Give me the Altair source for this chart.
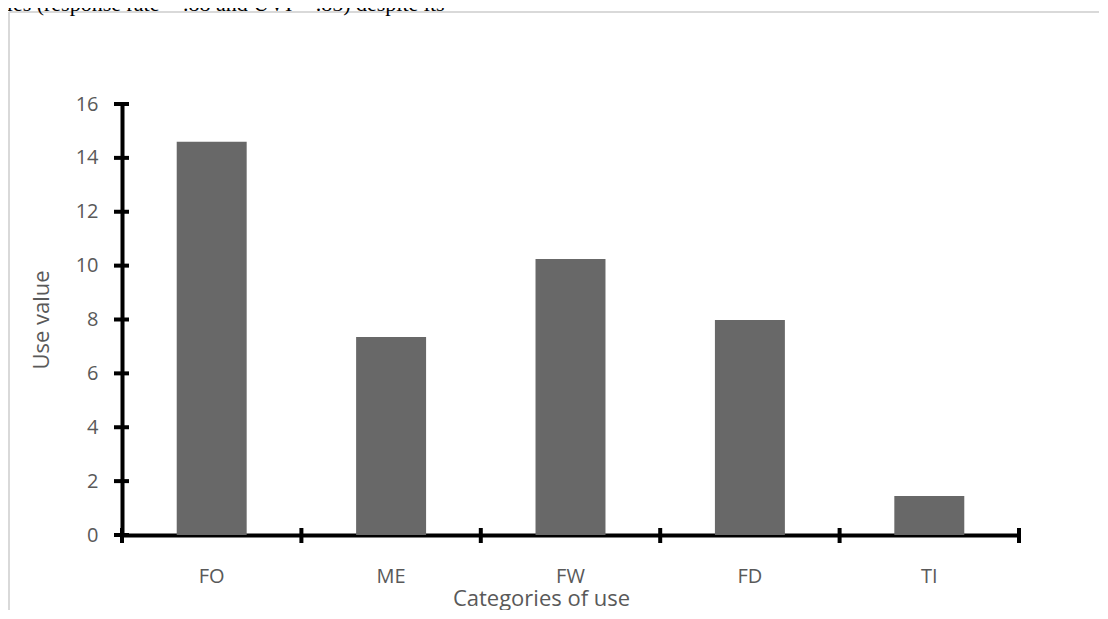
import altair as alt
import pandas as pd

# ---- data ----
categories = ["FO", "ME", "FW", "FD", "TI"]
use_values = [14.6, 7.35, 10.25, 7.98, 1.45]
y_ticks = [0, 2, 4, 6, 8, 10, 12, 14, 16]
end_category = [categories[-1]]
header_text = ["cies (response rate = .88 and UVI = .85) despite its"]

W, H = 897, 431
TEXT = "#595959"
FONT = "Open Sans"

bars_df = pd.DataFrame({"cat": categories, "value": use_values})
yt_df = pd.DataFrame({"value": y_ticks})
xt_df = pd.DataFrame({"cat": categories})
xe_df = pd.DataFrame({"cat": end_category})
one = pd.DataFrame({"k": [0]})
hdr_df = pd.DataFrame({"t": header_text})

xscale = alt.Scale(domain=categories, paddingInner=0, paddingOuter=0)
yscale = alt.Scale(domain=[0, 16], nice=False, zero=True)

x_axis = alt.Axis(title="Categories of use", ticks=False, tickSize=0,
                  labelAngle=0, labelFont=FONT, labelFontSize=20,
                  labelColor=TEXT, labelBaseline="alphabetic",
                  labelPadding=47, domainColor="black", domainWidth=4,
                  titleFont=FONT, titleFontSize=22, titleFontWeight="normal",
                  titleColor=TEXT, titleBaseline="alphabetic",
                  titleX=419, titleY=70, titleAnchor="middle")
y_axis = alt.Axis(values=y_ticks, title="Use value", ticks=False, tickSize=0,
                  grid=False, labelFont=FONT, labelFontSize=20,
                  labelColor=TEXT, labelPadding=24,
                  domainColor="black", domainWidth=4,
                  titleFont=FONT, titleFontSize=22, titleFontWeight="normal",
                  titleColor=TEXT, titleAngle=-90, titleBaseline="middle",
                  titleAlign="center", titleX=-81, titleY=H / 2)

bars = alt.Chart(bars_df).mark_bar(
    width=alt.RelativeBandSize(0.39), color="#686868"
).encode(
    x=alt.X("cat:N", scale=xscale, sort=categories, axis=x_axis),
    y=alt.Y("value:Q", scale=yscale, axis=y_axis),
)

ytick_rules = alt.Chart(yt_df).mark_rule(color="black", strokeWidth=4).encode(
    y=alt.Y("value:Q", scale=yscale, axis=y_axis),
    x=alt.value(-8), x2=alt.value(7),
)

xtick_rules = alt.Chart(xt_df).mark_rule(color="black", strokeWidth=4).encode(
    x=alt.X("cat:N", scale=xscale, sort=categories, bandPosition=0, axis=x_axis),
    y=alt.value(H - 7), y2=alt.value(H + 8),
)

xtick_end = alt.Chart(xe_df).mark_rule(color="black", strokeWidth=4).encode(
    x=alt.X("cat:N", scale=xscale, sort=categories, bandPosition=1, axis=x_axis),
    y=alt.value(H - 7), y2=alt.value(H + 8),
)

frame_top = alt.Chart(one).mark_rule(color="#d9d9d9", strokeWidth=2).encode(
    x=alt.value(-113), x2=alt.value(W + 100), y=alt.value(-92)
)
frame_left = alt.Chart(one).mark_rule(color="#d9d9d9", strokeWidth=2).encode(
    x=alt.value(-113), y=alt.value(-92), y2=alt.value(H + 100)
)

header = alt.Chart(hdr_df).mark_text(
    align="left", baseline="alphabetic", font="Liberation Serif",
    fontSize=22, color="black"
).encode(text="t:N", x=alt.value(-125), y=alt.value(-93))

chart = alt.layer(
    frame_top, frame_left, header, bars, ytick_rules, xtick_rules, xtick_end
).properties(
    width=W, height=H,
    padding={"left": 114, "top": 96, "right": 80, "bottom": 75},
    autosize=alt.AutoSizeParams(type="none"),
    background="white",
).configure_view(stroke=None)

chart.save("out.html", embed_options={"renderer": "svg", "actions": False})
